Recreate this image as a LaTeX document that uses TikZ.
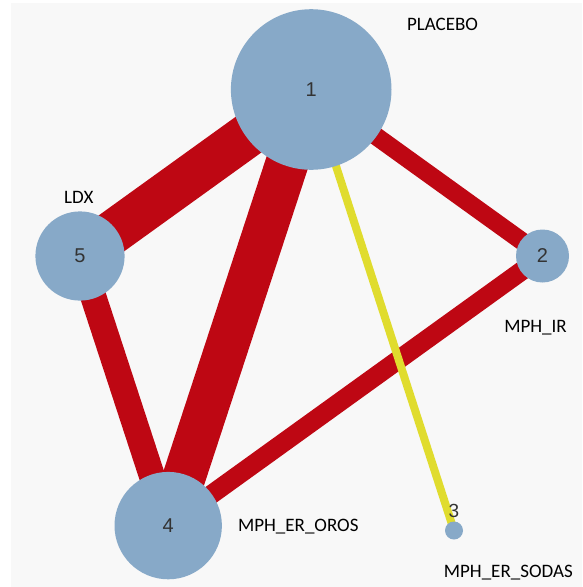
\documentclass[tikz,border=0pt]{standalone}
\usepackage{fontspec}
\setmainfont{Carlito}
\newfontfamily\numfont{Liberation Sans}
\pgfdeclarelayer{canvas}
\pgfdeclarelayer{background}
\pgfsetlayers{canvas,background,main}
\definecolor{bgc}{HTML}{F8F8F8}
\definecolor{nodeblue}{HTML}{87A9C8}
\definecolor{edgered}{HTML}{BE0713}
\definecolor{edgeyellow}{HTML}{E0DC2E}
\definecolor{numgray}{HTML}{333333}
\tikzset{
  vertex/.style={circle, fill=nodeblue, inner sep=0pt, text=numgray, font=\numfont\fontsize{20}{20}\selectfont},
  namelabel/.style={anchor=base, inner sep=0pt, text=black, font=\fontsize{19}{19}\selectfont},
  rededge/.style={draw=edgered, line cap=butt},
  yellowedge/.style={draw=edgeyellow, line cap=butt, line width=8pt}
}
\begin{document}
\begin{tikzpicture}[x=1pt, y=-1pt]
\useasboundingbox (0,0) rectangle (582,587);
\begin{pgfonlayer}{canvas}
\fill[white] (0,0) rectangle (582,587);
\fill[bgc] (11,3) rectangle (582,587);
\end{pgfonlayer}
% nodes
\node[vertex, minimum size=160.6pt] (n1) at (311.2,89.5) {1};
\node[vertex, minimum size=89.2pt] (n5) at (80,256) {5};
\node[vertex, minimum size=53pt] (n2) at (542.5,256) {2};
\node[vertex, minimum size=107.4pt] (n4) at (168.2,525.6) {4};
\node[vertex, minimum size=18pt] (n3) at (454,530.5) {};
\node[anchor=base, inner sep=0pt, text=numgray, font=\numfont\fontsize{19}{19}\selectfont] (l3) at (453.8,517.3) {3};
% edges
\begin{pgfonlayer}{background}
\draw[rededge, line width=44pt] (n1.center) -- (n5.center);
\draw[rededge, line width=43pt] (n1.center) -- (n4.center);
\draw[rededge, line width=18pt] (n1.center) -- (n2.center);
\draw[rededge, line width=19pt] (n2.center) -- (n4.center);
\draw[rededge, line width=26pt] (n5.center) -- (n4.center);
\draw[yellowedge] (n1.center) -- (n3.center);
\end{pgfonlayer}
% name labels
\node[namelabel] (t1) at (442.5,30.4) {PLACEBO};
\node[namelabel] (t5) at (78.8,203.4) {LDX};
\node[namelabel] (t2) at (535.5,332.2) {MPH\_IR};
\node[namelabel] (t4) at (298.3,531.5) {MPH\_ER\_OROS};
\node[namelabel] (t3) at (508.3,577.3) {MPH\_ER\_SODAS};
\end{tikzpicture}
\end{document}
